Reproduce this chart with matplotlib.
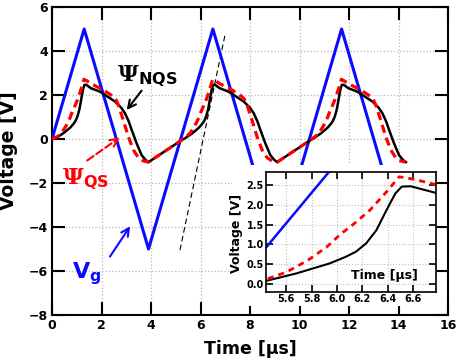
import numpy as np
import matplotlib
matplotlib.use('Agg')
import matplotlib.pyplot as plt
from matplotlib.patches import Rectangle

plt.rcParams['font.family'] = 'DejaVu Sans'
plt.rcParams['font.weight'] = 'bold'
plt.rcParams['mathtext.fontset'] = 'custom'
plt.rcParams['mathtext.rm'] = 'DejaVu Serif'
plt.rcParams['mathtext.it'] = 'DejaVu Serif'
plt.rcParams['mathtext.bf'] = 'DejaVu Sans:bold'

# ─── Data ─────────────────────────────────────────────────────────────────────

# gate voltage V_g (triangle wave vertices)
t_vg = [0.0, 1.3, 3.9, 6.5, 9.1, 11.7, 14.3]
v_vg = [0.0, 5.0, -5.0, 5.0, -5.0, 5.0, -5.0]

# non quasi-static surface potential (black)
t_nqs = [0.00, 0.24, 0.48, 0.74, 0.87, 0.95, 1.03, 1.11, 1.19, 1.26, 1.31, 1.38,
         1.57, 1.94, 2.55, 2.80, 2.95, 3.10, 3.22, 3.42, 3.62, 3.78, 3.90,
         5.20, 5.44, 5.68, 5.94, 6.07, 6.15, 6.23, 6.31, 6.39, 6.46, 6.51, 6.58,
         6.77, 7.14, 7.75, 8.00, 8.15, 8.30, 8.42, 8.62, 8.82, 8.98, 9.10,
         10.40, 10.64, 10.88, 11.14, 11.27, 11.35, 11.43, 11.51, 11.59, 11.66, 11.71, 11.78,
         11.97, 12.34, 12.95, 13.20, 13.35, 13.50, 13.62, 13.82, 14.02, 14.18, 14.30]
v_nqs = [0.00, 0.10, 0.28, 0.52, 0.69, 0.82, 1.03, 1.36, 1.87, 2.29, 2.46, 2.47,
         2.31, 2.15, 1.70, 1.42, 1.17, 0.80, 0.41, -0.20, -0.73, -0.95, -1.05,
         -0.08, 0.08, 0.27, 0.52, 0.69, 0.82, 1.03, 1.36, 1.87, 2.29, 2.46, 2.47,
         2.31, 2.15, 1.70, 1.42, 1.17, 0.80, 0.41, -0.20, -0.73, -0.95, -1.05,
         -0.08, 0.08, 0.27, 0.52, 0.69, 0.82, 1.03, 1.36, 1.87, 2.29, 2.46, 2.47,
         2.31, 2.15, 1.70, 1.42, 1.17, 0.80, 0.41, -0.20, -0.73, -0.95, -1.05]

# quasi-static surface potential (red dashed)
t_qs = [0.00, 0.24, 0.40, 0.57, 0.72, 0.82, 0.94, 1.06, 1.19, 1.29, 1.40, 1.57,
        2.07, 2.45, 2.58, 2.68, 2.88, 3.08, 3.29, 3.49, 3.70, 3.90,
        5.20, 5.44, 5.60, 5.77, 5.92, 6.02, 6.14, 6.26, 6.39, 6.49, 6.60, 6.77,
        7.27, 7.65, 7.78, 7.88, 8.08, 8.28, 8.49, 8.69, 8.90, 9.10,
        10.40, 10.64, 10.80, 10.97, 11.12, 11.22, 11.34, 11.46, 11.59, 11.69, 11.80, 11.97,
        12.47, 12.85, 12.98, 13.08, 13.28, 13.48, 13.69, 13.89, 14.10, 14.30]
v_qs = [0.00, 0.12, 0.30, 0.60, 0.94, 1.24, 1.54, 1.87, 2.33, 2.71, 2.65, 2.52,
        2.23, 1.95, 1.80, 1.55, 0.86, 0.12, -0.50, -0.85, -1.00, -1.05,
        -0.08, 0.12, 0.30, 0.60, 0.94, 1.24, 1.54, 1.87, 2.33, 2.71, 2.65, 2.52,
        2.23, 1.95, 1.80, 1.55, 0.86, 0.12, -0.50, -0.85, -1.00, -1.05,
        -0.08, 0.12, 0.30, 0.60, 0.94, 1.24, 1.54, 1.87, 2.33, 2.71, 2.65, 2.52,
        2.23, 1.95, 1.80, 1.55, 0.86, 0.12, -0.50, -0.85, -1.00, -1.05]

# thin dashed guide line
t_guide = [5.17, 6.99]
v_guide = [-5.05, 4.73]

main_xticks = [0, 2, 4, 6, 8, 10, 12, 14, 16]
main_yticks = [-8, -6, -4, -2, 0, 2, 4, 6]
inset_xticks = [5.6, 5.8, 6.0, 6.2, 6.4, 6.6]
inset_yticks = [0.0, 0.5, 1.0, 1.5, 2.0, 2.5]

BLUE = '#0a0aff'
RED = '#ff0000'

# ─── Figure ───────────────────────────────────────────────────────────────────
W, H = 458, 364
fig = plt.figure(figsize=(W / 100, H / 100), dpi=100)
ax = fig.add_axes([52 / W, 1 - 315 / H, 396 / W, 308 / H])

ax.plot(t_vg, v_vg, color=BLUE, lw=2.2, zorder=3)
ax.plot(t_nqs, v_nqs, color='black', lw=1.8, zorder=4)
ax.plot(t_qs, v_qs, color=RED, lw=2.3, ls=(0, (2.6, 1.6)), zorder=5)
ax.plot(t_guide, v_guide, color='black', lw=0.8, ls=(0, (5, 3)), zorder=2)

ax.set_xlim(0, 16)
ax.set_ylim(-8, 6)
ax.set_xticks(main_xticks)
ax.set_yticks(main_yticks)
ax.grid(True, color='#b8b8b8', ls=':', lw=0.9, zorder=0)
ax.tick_params(direction='in', length=9.5, width=1.5, top=True, right=True,
               labelsize=9, pad=3)
for s in ax.spines.values():
    s.set_linewidth(1.5)
for lab in ax.get_xticklabels() + ax.get_yticklabels():
    lab.set_fontweight('bold')

ax.set_xlabel('Time [µs]', fontsize=12.5, fontweight='bold')
ax.set_ylabel('Voltage [V]', fontsize=13.5, fontweight='bold')
ax.xaxis.set_label_coords(0.5, -0.08)
ax.yaxis.set_label_coords(-0.086, 0.535)

# labels and arrows
ax.text(2.63, 2.86, r'$\Psi_{\mathbf{NQS}}$', fontsize=16.5, color='black',
        va='center', ha='left')
ax.annotate('', xy=(2.95, 1.22), xytext=(3.69, 2.3),
            arrowprops=dict(arrowstyle='->', color='black', lw=1.5,
                            mutation_scale=14))

ax.text(0.4, -1.85, r'$\Psi_{\mathbf{QS}}$', fontsize=16.5, color=RED,
        va='center', ha='left')
ax.annotate('', xy=(2.83, 0.14), xytext=(1.33, -1.05),
            arrowprops=dict(arrowstyle='->', color=RED, lw=1.5, ls='--',
                            mutation_scale=14))

ax.text(0.8, -6.1, r'$\mathbf{V_g}$', fontsize=16, color=BLUE,
        va='center', ha='left')
ax.annotate('', xy=(3.22, -3.86), xytext=(2.28, -5.45),
            arrowprops=dict(arrowstyle='->', color=BLUE, lw=1.5,
                            mutation_scale=14))

# white backing under the inset
fig.add_artist(Rectangle((232 / W, 1 - 306 / H), (437 - 232) / W, (306 - 165) / H,
                         transform=fig.transFigure, facecolor='white',
                         edgecolor='none', zorder=1))

# ─── Inset ────────────────────────────────────────────────────────────────────
axi = fig.add_axes([266 / W, 1 - 292 / H, 170 / W, 120 / H], zorder=2)
axi.plot(t_vg, v_vg, color=BLUE, lw=1.8)
axi.plot(t_nqs, v_nqs, color='black', lw=1.5)
axi.plot(t_qs, v_qs, color=RED, lw=2.0, ls=(0, (2.2, 1.8)))
axi.set_xlim(5.44, 6.78)
axi.set_ylim(-0.2, 2.83)
axi.set_xticks(inset_xticks)
axi.set_yticks(inset_yticks)
axi.set_xticklabels([f'{v:.1f}' for v in inset_xticks])
axi.set_yticklabels([f'{v:.1f}' for v in inset_yticks])
axi.grid(True, color='#c0c0c0', ls=':', lw=0.8)
axi.tick_params(direction='in', length=5, width=1.2, top=True, right=True,
                labelsize=7, pad=1.5)
for s in axi.spines.values():
    s.set_linewidth(1.2)
for lab in axi.get_xticklabels() + axi.get_yticklabels():
    lab.set_fontweight('bold')
axi.set_ylabel('Voltage [V]', fontsize=9, fontweight='bold')
axi.yaxis.set_label_coords(-0.135, 0.49)
axi.text(0.694, 0.14, 'Time [µs]', transform=axi.transAxes, fontsize=9,
         fontweight='bold', ha='center', va='center')

fig.savefig('out.png', dpi=100)
